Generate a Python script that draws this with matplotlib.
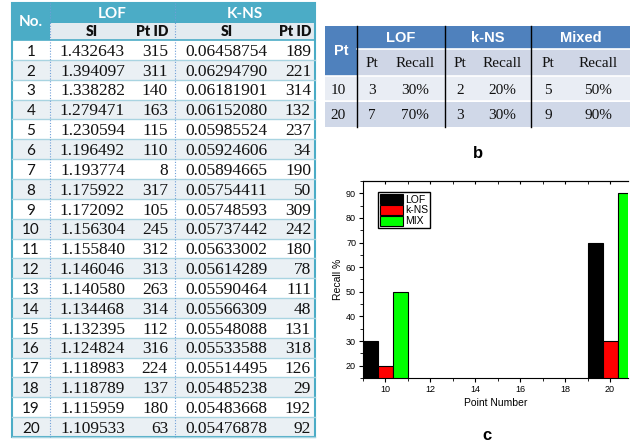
import matplotlib
matplotlib.use("Agg")
import matplotlib.pyplot as plt
from matplotlib.patches import Rectangle
from matplotlib.ticker import MultipleLocator

# ---- table a data
row_no = list(range(1, 21))
lof_si = ["1.432643", "1.394097", "1.338282", "1.279471", "1.230594", "1.196492", "1.193774",
          "1.175922", "1.172092", "1.156304", "1.155840", "1.146046", "1.140580", "1.134468",
          "1.132395", "1.124824", "1.118983", "1.118789", "1.115959", "1.109533"]
lof_pt = [315, 311, 140, 163, 115, 110, 8, 317, 105, 245, 312, 313, 263, 314, 112, 316, 224, 137, 180, 63]
kns_si = ["0.06458754", "0.06294790", "0.06181901", "0.06152080", "0.05985524", "0.05924606",
          "0.05894665", "0.05754411", "0.05748593", "0.05737442", "0.05633002", "0.05614289",
          "0.05590464", "0.05566309", "0.05548088", "0.05533588", "0.05514495", "0.05485238",
          "0.05483668", "0.05476878"]
kns_pt = [189, 221, 314, 132, 237, 34, 190, 50, 309, 242, 180, 78, 111, 48, 131, 318, 126, 29, 192, 92]

# ---- table b data
b_groups = ["LOF", "k-NS", "Mixed"]
b_points = [10, 20]
b_pt = [[3, 2, 5], [7, 3, 9]]
b_recall = [["30%", "20%", "50%"], ["70%", "30%", "90%"]]

# ---- chart c data
point_number = [10, 20]
recall_lof = [30, 70]
recall_kns = [20, 30]
recall_mix = [50, 90]

fig = plt.figure(figsize=(6.34, 4.44), dpi=100)
ax = fig.add_axes([0, 0, 1, 1])
ax.set_xlim(0, 634)
ax.set_ylim(444, 0)
ax.axis("off")

serif = "Liberation Serif"
sans = "Liberation Sans"
cal = "Lato"

## table a
teal = "#4BACC6"
x0, x1, x2, x3 = 12, 50, 175, 315
ytop, yh1, yh2 = 3, 23, 40
rh = 19.85
ax.add_patch(Rectangle((x0, ytop), x3 - x0, yh1 - ytop, color=teal, lw=0))
ax.add_patch(Rectangle((x0, ytop), x1 - x0, yh2 - ytop, color=teal, lw=0))
ax.add_patch(Rectangle((x1, yh1), x3 - x1, yh2 - yh1, color="#E3EBF0", lw=0))
for i in range(len(row_no)):
    y = yh2 + i * rh
    if i % 2 == 1:
        ax.add_patch(Rectangle((x0, y), x3 - x0, rh, color="#EAF0F4", lw=0))
    ax.plot([x0, x3], [y + rh, y + rh], color="#A9D4E1", lw=1)
ax.plot([x0, x3], [yh2, yh2], color=teal, lw=1.2)
ybot = yh2 + len(row_no) * rh
ax.add_patch(Rectangle((x0, ytop), x3 - x0, ybot - ytop, fill=False, ec=teal, lw=1.5))
for xv in (x1, x2):
    ax.plot([xv, xv], [ytop, ybot], color="#6F9FD8", lw=0.8, ls=(0, (1, 1.5)))

ax.text(31, 22, "No.", color="white", fontsize=11, fontweight="bold", family=cal, ha="center", va="center")
ax.text(112, 13.5, "LOF", color="white", fontsize=11, fontweight="bold", family=cal, ha="center", va="center")
ax.text(245, 13.5, "K-NS", color="white", fontsize=11, fontweight="bold", family=cal, ha="center", va="center")
ax.text(92, 32, "SI", color="#111111", fontsize=10, fontweight="heavy", family=cal, ha="center", va="center")
ax.text(168, 32, "Pt ID", color="#111111", fontsize=10, fontweight="heavy", family=cal, ha="right", va="center")
ax.text(227, 32, "SI", color="#111111", fontsize=10, fontweight="heavy", family=cal, ha="center", va="center")
ax.text(311, 32, "Pt ID", color="#111111", fontsize=10, fontweight="heavy", family=cal, ha="right", va="center")

for i in range(len(row_no)):
    yb = yh2 + i * rh + rh / 2 + 5.8
    ax.text(31, yb, str(row_no[i]), fontsize=11, family=cal, ha="center", va="baseline", color="#111111")
    ax.text(92.5, yb, lof_si[i], fontsize=12.5, family=serif, ha="center", va="baseline", color="#111111")
    ax.text(168, yb, str(lof_pt[i]), fontsize=12.5, family=serif, ha="right", va="baseline", color="#111111")
    ax.text(226, yb, kns_si[i], fontsize=12.5, family=serif, ha="center", va="baseline", color="#111111")
    ax.text(311, yb, str(kns_pt[i]), fontsize=12.5, family=serif, ha="right", va="baseline", color="#111111")

## table b
blue = "#4F81BD"
bx = [325, 357, 445, 531, 630]
by = [26, 49, 76, 101.5, 127]
ax.add_patch(Rectangle((bx[0], by[0]), bx[-1] - bx[0], by[1] - by[0], color=blue, lw=0))
ax.add_patch(Rectangle((bx[0], by[0]), bx[1] - bx[0], by[2] - by[0], color=blue, lw=0))
ax.add_patch(Rectangle((bx[1], by[1]), bx[-1] - bx[1], by[2] - by[1], color="#CFD6E6", lw=0))
ax.add_patch(Rectangle((bx[0], by[2]), bx[-1] - bx[0], by[3] - by[2], color="#E9EDF4", lw=0))
ax.add_patch(Rectangle((bx[0], by[3]), bx[-1] - bx[0], by[4] - by[3], color="#D0D8E8", lw=0))
for yv in by[1:4]:
    ax.plot([bx[1] if yv == by[1] else bx[0], bx[-1]], [yv, yv], color="white", lw=1.2)
for xv in bx[1:4]:
    ax.plot([xv, xv], [by[0], by[-1]], color="black", lw=1)

ax.text(341, 51, "Pt", color="white", fontsize=10.5, fontweight="bold", family=sans, ha="center", va="center")
pt_cx = [372, 460, 548]
rec_cx = [415, 502.5, 598]
for g in range(len(b_groups)):
    ax.text((bx[g + 1] + bx[g + 2]) / 2, 38, b_groups[g], color="white", fontsize=10.5,
            fontweight="bold", family=sans, ha="center", va="center")
    ax.text(pt_cx[g], 67, "Pt", fontsize=11, family=serif, ha="center", va="baseline", color="#111111")
    ax.text(rec_cx[g], 67, "Recall", fontsize=11, family=serif, ha="center", va="baseline", color="#111111")
for r in range(len(b_points)):
    yb = (by[2 + r] + by[3 + r]) / 2 + 5
    ax.text(338, yb, str(b_points[r]), fontsize=11, family=serif, ha="center", va="baseline", color="#111111")
    for g in range(len(b_groups)):
        ax.text(pt_cx[g], yb, str(b_pt[r][g]), fontsize=11, family=serif, ha="center", va="baseline", color="#111111")
        ax.text(rec_cx[g], yb, b_recall[r][g], fontsize=11, family=serif, ha="center", va="baseline", color="#111111")

ax.text(478, 153, "b", fontsize=12, fontweight="bold", family=sans, ha="center", va="center")
ax.text(487, 435, "c", fontsize=12, fontweight="bold", family=sans, ha="center", va="center")

## chart c
cax = fig.add_axes([363 / 634, (444 - 378) / 444, (628 - 363) / 634, (378 - 181) / 444])
w = 0.667
xs = list(point_number)
cax.bar([x - w for x in xs], recall_lof, width=w, color="black", ec="black", lw=0.8, label="LOF")
cax.bar(xs, recall_kns, width=w, color="#FF0000", ec="black", lw=0.8, label="k-NS")
cax.bar([x + w for x in xs], recall_mix, width=w, color="#00FF00", ec="black", lw=0.8, label="MIX")
cax.set_xlim(9, 20.8)
cax.set_ylim(15, 95)
cax.spines["right"].set_visible(False)
cax.xaxis.set_major_locator(MultipleLocator(2))
cax.xaxis.set_minor_locator(MultipleLocator(1))
cax.yaxis.set_major_locator(MultipleLocator(10))
cax.yaxis.set_minor_locator(MultipleLocator(5))
cax.set_yticks(range(20, 100, 10))
cax.tick_params(which="major", direction="out", length=3, width=0.8, labelsize=6.5, pad=2)
cax.tick_params(which="minor", direction="out", length=2, width=0.6)
for lab in cax.get_xticklabels() + cax.get_yticklabels():
    lab.set_family(sans)
top = cax.secondary_xaxis("top")
top.xaxis.set_major_locator(MultipleLocator(2))
top.xaxis.set_minor_locator(MultipleLocator(1))
top.tick_params(which="both", direction="in", length=2, labeltop=False)
top.set_xticklabels([])
cax.set_ylabel("Recall %", fontsize=7.5, family=sans, labelpad=2)
cax.set_xlabel("Point Number", fontsize=7.5, family=sans, labelpad=3)
leg = cax.legend(loc="upper left", bbox_to_anchor=(0.057, 0.944), borderaxespad=0,
                 fancybox=False, framealpha=1, edgecolor="black", prop={"family": sans, "size": 7.5},
                 handlelength=2.2, handleheight=1.05, handletextpad=0.2, labelspacing=0.05,
                 borderpad=0.2)
leg.get_frame().set_linewidth(1)

fig.savefig("out.png", dpi=100)
